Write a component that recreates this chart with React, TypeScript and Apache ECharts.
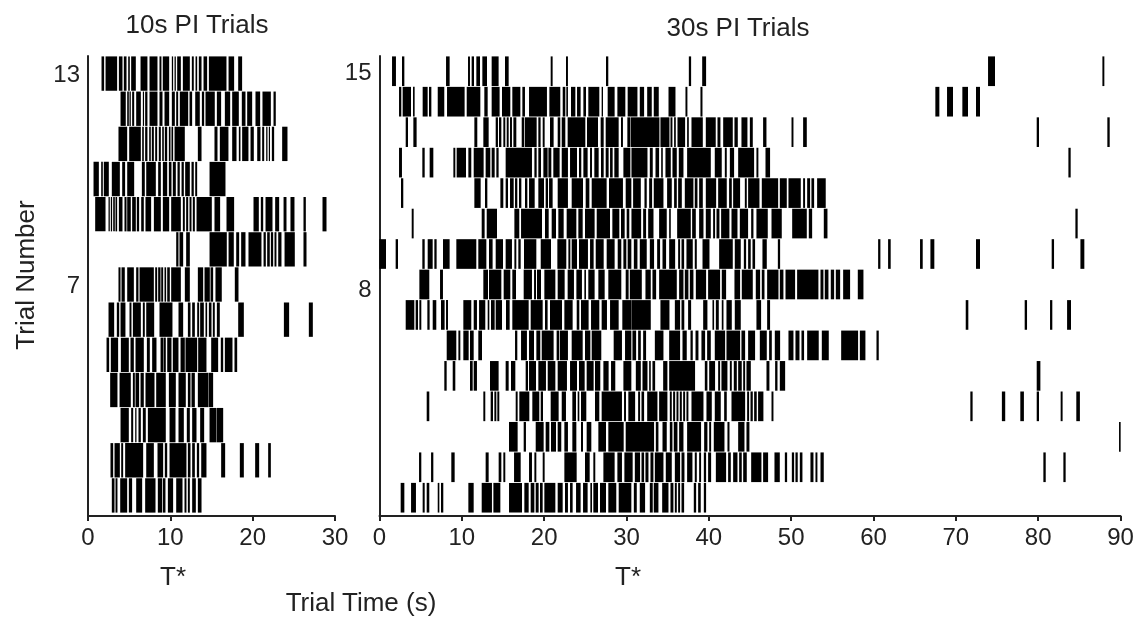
import React, { useEffect, useRef } from "react";
import * as echarts from "echarts";

// Response bursts per trial, as flat [start, end, start, end, ...] pairs in seconds.
const short13 = [1.66,1.94,2.15,3.52,3.77,4.17,4.37,4.66,4.9,5.06,5.26,5.79,6.4,7.2,7.49,8.42,8.7,8.9,9.1,9.84,10.2,10.32,10.53,10.65,10.85,11.26,11.54,12.35,12.63,12.83,13.08,13.24,13.48,13.77,14.05,14.45,14.7,16.8,17.09,17.73,18.26,18.7];
const short12 = [3.97,4.57,4.78,4.94,5.06,5.18,5.38,5.59,5.87,6.4,6.68,6.76,6.96,7.2,7.49,8.42,8.7,9.03,9.31,9.84,10.2,10.53,10.73,10.93,11.17,12.15,12.35,12.63,13.04,13.56,13.85,14.09,14.29,15.38,15.67,16.15,16.64,17.25,17.53,18.3,18.7,19.11,19.35,19.92,20.36,20.89,21.21,22.19,22.55,22.79];
const short11 = [3.72,4.74,5.02,6.4,6.6,6.76,6.96,7.2,7.45,7.61,7.77,7.98,8.18,8.38,8.62,8.83,9.03,9.19,9.35,9.6,9.84,10,10.16,10.32,10.53,11.74,13.36,13.77,15.38,15.71,16.03,17.04,17.53,18.02,18.34,18.5,18.74,19.47,19.76,20.12,20.57,20.93,21.17,21.38,21.66,21.78,21.98,22.06,22.35,22.59,23.6,24.21];
const short10 = [0.69,1.3,1.62,1.78,1.94,2.51,2.91,3.85,4.17,4.49,4.78,5.59,6.56,6.88,7.09,8.22,8.54,8.83,9.11,9.6,9.84,10.12,10.32,10.65,10.89,11.13,11.38,11.62,11.82,12.35,12.59,12.83,13.04,13.24,14.78,16.68];
const short9 = [0.89,2.11,2.51,2.63,2.79,2.91,3.08,3.24,3.36,3.52,3.77,4.17,4.45,4.66,4.78,5.18,5.38,5.79,5.95,6.19,6.48,6.76,7,7.65,8.02,8.83,9.11,9.84,10.12,11.26,11.54,11.74,11.94,12.15,12.35,12.55,12.75,12.96,13.2,15.02,15.38,16.03,16.84,17.73,20.12,20.73,21.01,21.26,21.58,22.39,22.75,23.2,23.77,24.09,24.61,25.06,26.19,26.44,28.5,28.95];
const short8 = [10.73,10.97,11.13,11.54,11.94,12.35,14.78,16.84,17.09,17.69,18.02,18.34,18.62,19.11,19.51,21.05,21.34,21.58,21.78,22.06,22.23,22.47,22.67,22.87,23.12,23.48,23.89,25.1,26.19,26.52];
const short7 = [3.72,3.93,4.09,4.45,4.78,5.55,5.87,6.11,6.28,7.98,8.18,8.38,8.54,8.79,8.91,9.11,9.31,9.47,9.64,9.92,10.12,11.26,11.78,12.35,13.36,13.97,14.17,14.78,14.9,15.18,15.5,16.23,17.85,18.26];
const short6 = [2.51,3.16,3.52,3.77,3.97,4.53,5.06,5.26,5.47,6.4,6.68,6.88,7.09,8.02,8.7,10.24,11.01,11.54,12.15,12.43,12.67,12.96,13.28,13.48,13.64,14.05,14.29,14.45,14.7,14.98,15.18,15.38,15.67,15.99,18.26,18.91,23.81,24.41,26.84,27.29];
const short5 = [2.27,2.55,2.79,3.64,4.01,4.94,5.18,5.55,5.79,6.76,7.17,7.49,7.81,8.3,8.83,9.11,9.19,9.43,9.64,10.12,10.32,10.97,11.26,11.74,11.86,13.24,13.4,14.37,14.98,15.79,16.15,16.4,16.64,17.53,17.81,18.1];
const short4 = [2.71,3.56,3.85,5.18,5.47,5.67,5.79,6.19,6.4,6.76,7,8.06,8.3,9.43,9.84,10.65,11.01,11.86,12.15,12.43,12.59,12.96,13.36,14.62,14.7,15.18];
const short3 = [3.97,4.94,5.26,5.47,5.75,5.87,6.15,6.4,6.68,7,7.29,9.43,9.92,10.61,11.01,11.62,12.02,12.35,12.67,13.16,13.64,14.09,14.78,15.59,15.67,16.4];
const short2 = [2.75,3.04,3.24,3.85,4.05,4.25,4.53,6.68,7.09,7.98,8.46,9.11,9.35,9.6,9.92,11.94,12.15,12.43,12.67,12.96,13.24,13.48,13.77,14.37,16.19,16.64,18.46,18.91,20.32,20.77,21.9,22.19];
const short1 = [2.91,3.2,3.36,3.56,3.93,4.74,4.98,5.34,5.87,6.56,6.96,8.18,8.5,8.99,9.11,9.39,9.72,10.32,10.73,11.46,11.74,11.94,12.15,12.35,12.67,13.08,13.36,13.77];

const long15 = [1.54,1.98,2.75,3,8.1,8.5,10.77,10.97,11.21,11.46,11.78,12.19,12.51,13.04,13.64,14.45,15.26,15.67,20.81,21.01,22.67,22.87,27.53,27.77,37.59,37.83,39.21,39.65,73.93,74.74,87.82,88.02];
const long14 = [2.39,2.63,2.83,3.81,4.09,4.25,5.26,5.83,6.03,6.28,7.09,7.85,8.22,10.32,10.61,12.23,12.75,13.12,13.64,14.57,14.9,15.87,16.15,17.09,17.37,17.65,18.18,20.32,20.65,21.94,22.27,22.55,22.71,22.87,23.28,23.77,24.01,24.41,24.78,25.06,25.38,26.68,27,27.13,27.73,28.54,28.91,29.84,30.16,31.31,31.63,32.12,32.53,33.05,33.33,33.9,35.12,35.93,37.18,37.38,39,39.21,67.53,67.98,68.95,69.64,70.81,71.46,72.47,72.92];
const long13 = [3.2,3.44,4.13,4.49,11.54,11.86,12.63,13.24,14.13,14.37,14.53,14.78,15.06,15.26,15.47,15.67,15.87,16.07,16.28,16.6,17.29,17.57,17.69,19.07,19.31,19.55,19.84,20.04,20.73,21.13,21.66,21.94,22.15,22.55,22.87,24.98,25.22,26.52,26.88,27.21,27.49,29.03,29.35,29.55,30.12,30.45,30.54,33.98,34.14,35.2,35.36,35.56,35.8,35.97,36.21,37.1,37.38,37.55,37.91,39.25,39.65,40.82,41.07,41.39,41.76,42.89,43.13,43.5,43.98,44.67,45,45.32,46.61,46.98,50.06,50.26,51.47,51.88,79.84,80.08,88.42,88.67];
const long12 = [2.39,2.71,5.22,5.47,6.11,6.52,8.99,9.19,9.39,10.49,10.81,11.13,11.46,12.63,12.91,13.44,13.64,13.97,14.21,14.45,15.34,18.5,18.83,19.07,19.31,19.6,19.92,20.4,20.53,20.85,21.13,21.86,22.15,22.87,23.16,23.97,24.25,24.49,24.78,25.26,25.59,25.79,26.11,26.6,26.92,27.21,27.49,27.81,28.02,28.3,28.54,29.03,29.64,30.45,30.62,32.53,32.85,33.17,33.54,33.94,34.23,34.39,34.75,35.36,35.6,36.09,36.37,36.9,37.38,40.22,40.74,41.55,41.96,42.16,42.57,43.05,43.58,45.48,45.8,46,46.9,47.42,83.69,83.93];
const long11 = [2.63,2.87,11.54,12.27,12.83,13.08,14.7,15.02,15.34,15.59,15.87,16.28,16.48,16.72,16.96,17.21,17.69,17.94,18.18,18.83,19.31,19.96,20.2,20.45,20.61,21.01,21.66,22.87,23.36,24.7,25.06,25.47,25.79,27.57,27.89,29.55,29.92,30.57,30.82,31.72,32.2,32.44,32.77,33.09,33.33,34.47,34.95,35.48,35.8,36.09,36.29,36.7,37.1,38.11,38.31,38.6,38.84,39.25,39.65,40.87,41.15,42.16,42.48,42.77,42.97,43.78,44.39,44.59,44.79,46.13,46.45,48.4,48.64,49.45,49.69,51.15,51.47,51.67,51.96,52.28,52.48,52.77,53.17,54.18];
const long10 = [3.93,4.13,12.43,12.75,13.04,14.25,16.4,16.96,17.21,19.72,20.12,20.53,20.93,21.42,21.74,22.35,22.75,23.89,24.17,24.66,24.98,26.11,26.4,27.98,28.3,29.11,29.35,29.76,30.04,30.32,30.62,31.76,32.04,32.36,32.65,33.26,33.98,34.87,35.2,35.36,36.17,37.79,37.99,38.4,38.84,39.33,39.65,40.22,40.54,40.74,40.95,41.27,41.51,42.48,42.77,43.46,43.78,44.75,45.16,45.4,45.8,47.14,47.63,48.84,50.14,51.88,52.16,52.53,53.98,54.39,84.54,84.78];
const long9 = [0,0.77,1.98,2.23,5.22,5.47,5.87,6.44,6.68,6.92,7.73,8.5,9.35,11.74,12.02,12.96,13.32,13.72,14.13,14.98,15.34,16.07,16.4,16.6,16.88,17.13,17.57,19.03,19.6,20.81,21.62,22.67,22.96,23.16,23.36,23.97,24.25,25.3,25.59,25.99,26.28,27.21,27.61,28.54,28.95,29.35,29.64,29.96,30.16,30.57,30.91,31.31,31.63,32.44,32.85,33.33,33.74,34.06,34.39,34.79,35.2,35.89,36.29,36.49,36.7,36.98,37.3,38.03,38.31,38.52,39.25,40.06,41.27,42.89,43.17,43.86,44.27,44.51,44.79,45.07,45.32,45.6,46.53,47.02,48.4,48.64,60.58,60.82,61.79,62.07,65.67,65.96,66.93,67.37,72.47,72.92,81.66,81.91,85.15,85.59];
const long8 = [4.86,6.03,7.37,7.69,12.63,13.16,13.32,14.78,15.1,15.87,16.15,16.56,17.53,18.5,18.79,18.99,19.15,19.6,20.04,21.34,21.66,22.47,22.87,23.6,23.93,24.57,24.9,25.06,25.38,26.11,26.6,27.33,27.81,29.35,29.92,30.24,30.42,31.84,32.32,32.93,33.17,33.58,33.98,36.09,36.41,36.9,37.1,37.5,37.71,38.11,38.44,39.65,39.93,41.35,41.59,42.08,43.13,43.78,44.02,45.32,45.72,46.21,46.45,46.74,47.1,48.44,48.64,49.04,49.33,50.46,50.74,53.29,53.58,53.9,54.1,54.51,54.83,55.2,55.44,55.93,56.33,57.14,58.11,58.76];
const long7 = [3.2,4.21,4.41,4.66,4.86,5.06,5.83,6.07,6.48,6.88,7.49,7.89,8.1,8.3,10.2,11.13,11.46,11.82,12.11,12.83,13.16,13.32,13.56,13.97,14.13,14.86,15.38,15.79,16.15,18.1,18.38,19.8,20.12,20.4,20.73,22.15,22.47,23.44,23.97,24.25,24.49,25.38,25.71,26.68,27,27.61,28.02,29.03,29.51,30.57,30.62,32.93,34.14,35.2,35.89,36.49,36.7,37,37.5,37.83,39.33,39.81,40.46,40.62,40.87,41.19,41.59,41.76,42.16,42.77,43.17,43.86,45.8,46.33,47.1,47.42,71.22,71.5,78.38,78.63,81.46,81.7,83.53,83.97];
const long6 = [8.18,9.31,9.6,9.8,10.2,10.81,11.01,11.42,12.02,12.43,16.48,16.72,17.21,17.89,18.18,18.75,19.07,19.51,19.72,21.13,21.53,21.82,21.94,22.87,23.36,24.66,24.98,25.59,25.79,26.92,28.46,29.43,29.84,30.57,30.74,31.15,31.43,31.72,32.04,32.36,33.46,34.47,35.2,36.49,36.82,37.3,37.79,38.03,38.4,38.72,39.12,39.53,39.81,40.22,40.74,41.96,42.16,43.78,43.98,44.39,44.79,45.6,46.21,47.02,47.34,47.63,48.03,48.64,49.69,50.26,50.54,50.99,51.27,51.55,51.96,53.33,53.74,54.55,56.09,58.11,58.36,59,60.38,60.62];
const long5 = [7.89,8.14,8.91,9.19,11.01,11.3,11.46,11.82,13.44,14.45,15.34,15.67,15.99,16.48,17.77,18.02,18.18,18.99,19.31,20.2,20.45,21.34,21.66,22.75,23.16,23.97,24.25,24.9,25.18,25.99,26.19,26.8,27.21,27.81,28.14,28.62,29.64,30.57,31.15,31.72,31.96,32.53,32.77,32.93,33.17,33.46,34.47,34.95,35.2,38.31,39.53,39.81,40.06,40.74,41.15,41.35,41.55,42.24,42.57,42.77,43.05,43.38,43.58,43.98,44.19,44.39,44.59,45.08,47.02,47.34,48.07,48.32,48.64,49.25,79.84,80.25];
const long4 = [5.75,6.03,12.63,12.83,13.52,13.77,13.97,14.17,14.33,14.53,16.56,16.76,17,18.18,18.58,19.39,19.6,19.84,20.81,21.74,22.15,22.63,23.44,23.85,24.09,24.25,24.49,25.1,26.19,26.68,27,29.43,29.72,29.92,30.24,31.03,31.43,31.63,31.84,32.12,32.53,33.74,33.98,34.95,35.28,35.48,35.68,35.89,36.09,36.29,36.49,36.7,36.9,37.1,37.3,37.5,37.91,39.33,39.73,40.34,40.74,41.43,41.88,42.16,42.77,44.39,44.67,44.87,45.08,45.32,45.52,45.8,46,46.61,47.63,47.83,71.78,72.02,75.61,75.98,77.85,78.25,79.84,80.08,82.75,82.95,84.65,85.05];
const long3 = [15.75,16.76,17.53,17.77,18.99,19.92,20.2,20.61,20.85,21.42,21.66,22.06,22.47,22.87,23.44,23.89,24.49,24.7,25.18,25.71,26.6,27.49,27.81,29.64,29.92,33.33,33.58,33.86,34.39,34.87,35.28,35.56,35.76,36.17,36.41,36.9,37.38,39.04,39.45,39.81,40.06,40.26,40.62,41.88,42.28,42.49,43.58,44.31,44.59,44.91,89.84,90];
const long2 = [4.82,5.06,6.28,6.52,8.74,9.11,12.91,13.24,14.49,14.78,15.06,15.26,16.36,17.13,18.18,18.5,18.83,19.03,19.84,20.04,22.47,23.93,24.98,25.51,25.99,26.19,27.21,28.54,28.91,29.43,29.76,30.73,31.03,31.63,31.84,32.12,32.32,32.65,32.93,33.25,33.46,34.47,34.79,35.48,35.89,36.49,36.7,37.02,37.38,37.99,38.31,38.52,38.84,39.04,39.41,39.65,39.93,40.26,40.87,42.08,42.36,42.65,42.97,43.46,43.7,43.98,44.19,44.59,45.16,46.37,46.61,47.18,47.99,48.6,49.25,49.49,50.1,50.34,50.54,50.78,51.07,51.35,52.36,52.69,52.97,53.17,53.58,53.94,80.65,80.9,83.08,83.32];
const long1 = [2.59,3,3.85,4.41,5.26,5.47,5.75,6.03,7.09,7.25,7.49,7.73,10.81,11.42,12.43,13.64,13.85,14.66,15.75,17.29,17.61,18.1,18.38,18.79,18.99,19.31,19.51,19.8,20.04,21.34,21.66,22.23,22.55,22.87,23.16,23.44,23.89,24.41,24.74,25.26,25.63,25.79,25.99,26.52,26.8,27.49,27.81,28.74,29.07,30.57,30.91,31.23,31.63,32.24,32.85,33.17,33.33,33.86,34.35,35.08,35.36,35.68,35.89,36.09,36.29,36.49,36.7,36.98,38.19,38.44,38.72,39,39.41,39.65];

const shortTrials = [short1,short2,short3,short4,short5,short6,short7,short8,short9,short10,short11,short12,short13];
const longTrials = [long1,long2,long3,long4,long5,long6,long7,long8,long9,long10,long11,long12,long13,long14,long15];
const shortLabels = [7, 13];
const longLabels = [7.88, 15];
const textColor = "#222";
const fontFamily = "'Liberation Sans', Arial, sans-serif";

function toRows(trials: number[][]) {
  const rows: number[][] = [];
  trials.forEach((t, i) => {
    for (let k = 0; k + 1 < t.length; k += 2) rows.push([i + 1, t[k], t[k + 1]]);
  });
  return rows;
}

const renderBurst = (_: any, api: any) => {
  const row = api.value(0);
  const a = api.coord([api.value(1), row + 0.5]);
  const b = api.coord([api.value(2), row - 0.5]);
  return {
    type: "rect",
    shape: { x: a[0] - 0.15, y: a[1] + 0.4, width: Math.max(b[0] - a[0] + 0.3, 1.2), height: b[1] - a[1] - 0.8 },
    style: { fill: "#000" },
  };
};

const xAxis = (gridIndex: number, max: number) => ({
  type: "value", gridIndex, min: 0, max, interval: 10,
  splitLine: { show: false },
  axisLine: { lineStyle: { color: "#222", width: 2 } },
  axisTick: { length: 5, lineStyle: { color: "#222", width: 2 } },
  axisLabel: { color: textColor, fontSize: 24, fontFamily, margin: 8, showMinLabel: true, showMaxLabel: true },
});

const yAxis = (gridIndex: number, min: number, max: number, customValues: number[]) => ({
  type: "value", gridIndex, min, max,
  splitLine: { show: false },
  axisLine: { show: true, lineStyle: { color: "#222", width: 2 } },
  axisTick: { show: false },
  axisLabel: {
    color: textColor, fontSize: 24, fontFamily, margin: 8, customValues,
    formatter: (v: number) => String(Math.round(v)),
  },
});

const label = (text: string, x: number, y: number, fontSize = 26, rotation = 0) => ({
  type: "text", x, y, rotation,
  style: { text, fill: textColor, font: `${fontSize}px ${fontFamily}`, textAlign: "center", textVerticalAlign: "middle" },
});

export default function App() {
  const ref = useRef<HTMLDivElement>(null);
  useEffect(() => {
    document.body.style.margin = "0";
    const chart = echarts.init(ref.current!, undefined, { renderer: "svg" });
    chart.setOption({
      animation: false,
      backgroundColor: "#fff",
      grid: [
        { left: 88, top: 56, width: 247, height: 460 },
        { left: 379.5, top: 56, width: 741, height: 460 },
      ],
      xAxis: [xAxis(0, 30), xAxis(1, 90)],
      yAxis: [yAxis(0, 0.415, 13.5, shortLabels), yAxis(1, 0.4, 15.5, longLabels)],
      series: [
        { type: "custom", xAxisIndex: 0, yAxisIndex: 0, renderItem: renderBurst, encode: { x: [1, 2], y: 0 }, data: toRows(shortTrials), silent: true },
        { type: "custom", xAxisIndex: 1, yAxisIndex: 1, renderItem: renderBurst, encode: { x: [1, 2], y: 0 }, data: toRows(longTrials), silent: true },
      ],
      graphic: [
        label("10s PI Trials", 197, 24),
        label("30s PI Trials", 738, 27),
        label("Trial Number", 25, 275, 26, Math.PI / 2),
        label("T*", 173, 576),
        label("T*", 628, 576),
        label("Trial Time (s)", 361, 602),
      ],
    });
    return () => chart.dispose();
  }, []);
  return <div ref={ref} style={{ position: "absolute", left: 0, top: 0, width: 1146, height: 620, filter: "blur(0.5px)" }} />;
}
